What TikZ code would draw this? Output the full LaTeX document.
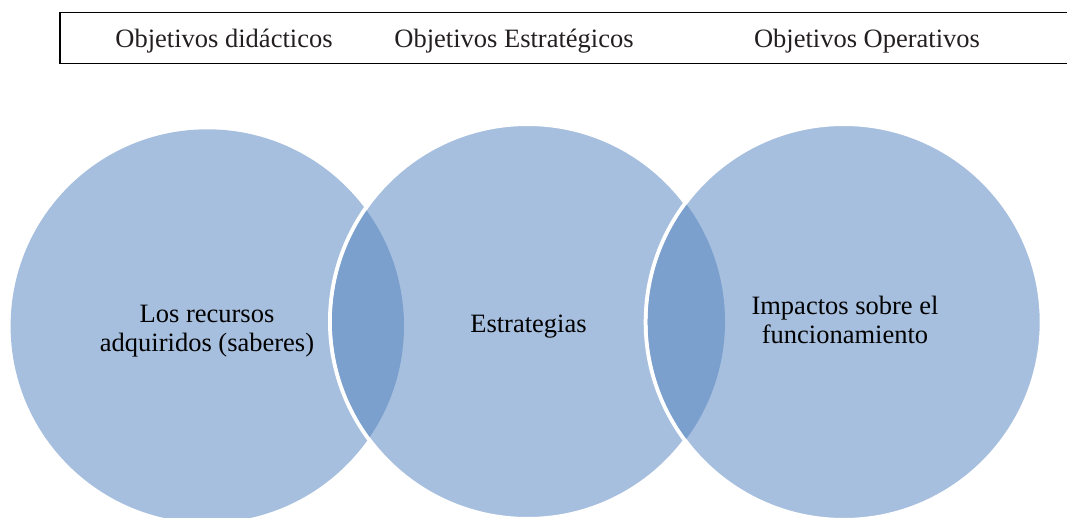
\documentclass[tikz,border=0pt]{standalone}
\usepackage{fontspec}
\setmainfont{Liberation Serif}
\definecolor{lightblue}{HTML}{A7BFDE}
\definecolor{darkblue}{HTML}{7BA0CD}
\definecolor{hdrtext}{HTML}{231F20}
\begin{document}
\begin{tikzpicture}[x=1pt,y=-1pt,
  txt/.style={font=\fontsize{26.5}{29}\selectfont, inner sep=0pt, align=center},
  venn/.style={circle, fill=lightblue, inner sep=0pt},
  venntop/.style={venn, draw=white, line width=4pt},
  hdrbox/.style={draw=black, line width=1.5pt, inner sep=0pt, anchor=north west}]
\useasboundingbox (0,0) rectangle (1067,518);
\clip (0,0) rectangle (1067,518);
% header box
\node[hdrbox, minimum width=1040pt, minimum height=51pt] (hdr) at (59,12) {};
\node[txt, anchor=base, text=hdrtext] (h1) at (224,48) {Objetivos didácticos};
\node[txt, anchor=base, text=hdrtext] (h2) at (514,48) {Objetivos Estratégicos};
\node[txt, anchor=base, text=hdrtext] (h3) at (867,48) {Objetivos Operativos};
% circles
\node[venn, minimum size=393.4pt] (c1) at (207.3,326) {};
\node[venntop, minimum size=395pt] (c2) at (527.5,321.5) {};
\node[venntop, minimum size=396pt] (c3) at (843.7,322) {};
% lenses
\begin{scope}
  \clip (c1.center) circle[radius=196.7pt];
  \fill[darkblue] (c2.center) circle[radius=195.5pt];
\end{scope}
\begin{scope}
  \clip (c2.center) circle[radius=197.5pt];
  \fill[darkblue] (c3.center) circle[radius=196pt];
\end{scope}
% texts
\node[txt] (t1) at (207,331) {Los recursos\\adquiridos (saberes)};
\node[txt, anchor=base] (t2) at (528.5,332) {Estrategias};
\node[txt] (t3) at (845,320) {Impactos sobre el\\funcionamiento};
\end{tikzpicture}
\end{document}
